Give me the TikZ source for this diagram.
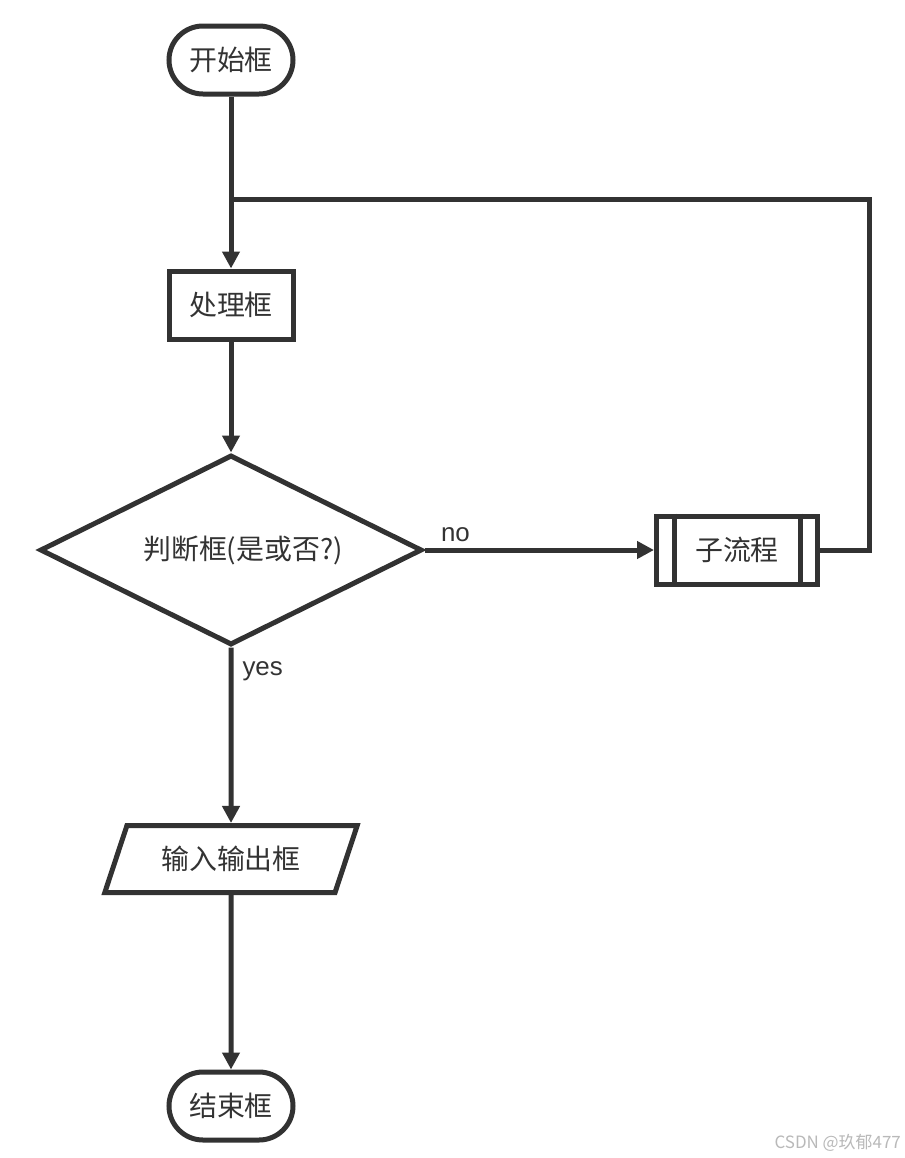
\documentclass[tikz,border=0pt]{standalone}
\usepackage{fontspec}
\setmainfont{Noto Sans CJK SC}
\newfontfamily\latinf{Liberation Sans}
\usetikzlibrary{arrows.meta,shapes.geometric}
\definecolor{linec}{HTML}{323232}
\definecolor{textc}{HTML}{333333}
\begin{document}
\begin{tikzpicture}[x=1bp,y=-1bp,
  every node/.style={font=\fontsize{28}{31}\selectfont, text=textc},
  box/.style={draw=linec, line width=5bp, fill=white, minimum width=124bp, minimum height=68bp, inner sep=0pt},
  term/.style={box, rounded corners=34bp},
  flow/.style={draw=linec, line width=5bp},
  arr/.style={flow, -{Triangle[length=17bp,width=17bp]}},
  lbl/.style={font=\latinf\fontsize{26}{30}\selectfont, inner sep=1bp}]
\useasboundingbox (0,0) rectangle (905,1158);
\fill[white] (0,0) rectangle (905,1158);

\node[term] (start) at (231,60) {开始框};
\node[box] (proc) at (231,305) {处理框};
\node[diamond, draw=linec, line width=5bp, fill=white, aspect=2, minimum width=382bp, minimum height=190bp, inner sep=0pt] (dec) at (231,550) {\hspace*{24bp}判断框(是或否?)};
\node[box, minimum width=161bp] (sub) at (737,550) {子流程};
\node[trapezium, trapezium left angle=60, trapezium right angle=120, trapezium stretches=true, draw=linec, line width=5bp, fill=white, minimum width=253bp, minimum height=67bp, inner sep=0pt] (io) at (231,859) {输入输出框};
\node[term] (end) at (231,1106) {结束框};

\draw[flow] ([xshift=20bp]sub.north west) -- ([xshift=20bp]sub.south west);
\draw[flow] ([xshift=-20bp]sub.north east) -- ([xshift=-20bp]sub.south east);

\coordinate (j) at (231,199);
\coordinate (lr) at (869,199);

\draw[arr] (start.south) -- (proc.north);
\draw[flow] (sub.east) -| (lr) -- (j);
\draw[arr] (proc.south) -- (dec.north);
\draw[arr] (dec.east) -- node[lbl, pos=0, anchor=south west, xshift=13bp, yshift=5bp] {no} (sub.west);
\draw[arr] (dec.south) -- node[lbl, pos=0, anchor=north west, xshift=8bp, yshift=-11bp] {yes} (io.north);
\draw[arr] (io.south) -- (end.north);

\node[font=\fontsize{17}{20}\selectfont, text=gray!55, anchor=base east, inner sep=0pt] (wm) at (901,1148) {CSDN @玖郁477};
\end{tikzpicture}
\end{document}
